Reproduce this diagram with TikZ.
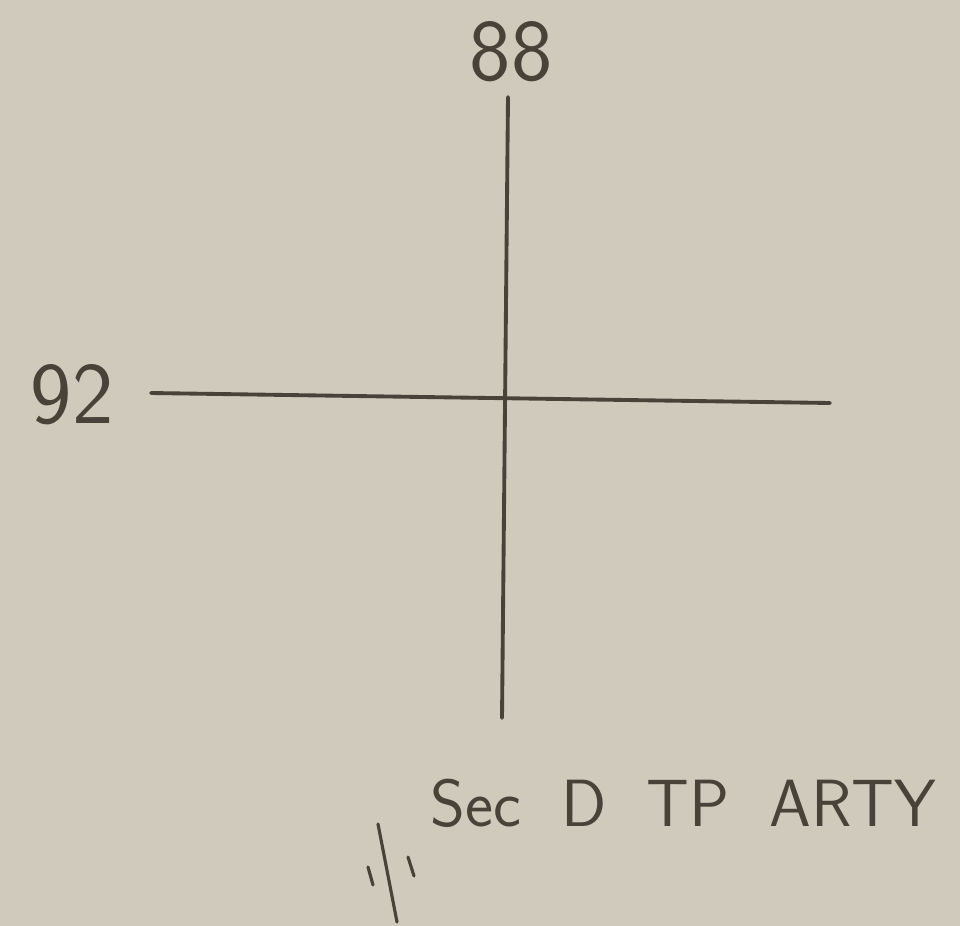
\documentclass[tikz,border=0pt]{standalone}
\usepackage{tikz}
\usetikzlibrary{positioning}
\usepackage{xcolor}
\definecolor{paper}{RGB}{207,202,188}
\definecolor{pencil}{RGB}{72,66,56}

\begin{document}
\begin{tikzpicture}[
    x=0.02cm, y=-0.02cm,
    gridline/.style={draw=pencil, line width=2.2pt, line cap=round},
    gridlabel/.style={text=pencil, font=\sffamily\fontsize{50}{54}\selectfont, inner sep=0pt},
    unitlabel/.style={text=pencil, font=\sffamily\fontsize{38}{42}\selectfont, inner sep=0pt,
        execute at begin node={\spaceskip=0.6em\relax}},
    tickmark/.style={draw=pencil, line width=1.8pt, line cap=round}
]
    % paper
    \fill[paper] (0,0) rectangle (960,926);
    \useasboundingbox (0,0) rectangle (960,926);

    % grid lines
    \coordinate (eTop) at (508,97);
    \coordinate (eBot) at (502,718);
    \coordinate (nLeft) at (151,393);
    \coordinate (nRight) at (830,403);
    \draw[gridline] (eTop) -- (eBot);
    \draw[gridline] (nLeft) -- (nRight);

    % grid numbers
    \node[gridlabel] (easting) at (511,52) {88};
    \node[gridlabel] (northing) at (72,395) {92};

    % unit label
    \node[unitlabel, anchor=west] (unit) at (430,803) {Sec D TP ARTY};

    % unit symbol
    \coordinate (sA) at (378,824);
    \coordinate (sB) at (397,922);
    \draw[tickmark] (sA) -- (sB);
    \draw[tickmark] (368,867) -- (373,885);
    \draw[tickmark] (408,857) -- (414,876);
\end{tikzpicture}
\end{document}
